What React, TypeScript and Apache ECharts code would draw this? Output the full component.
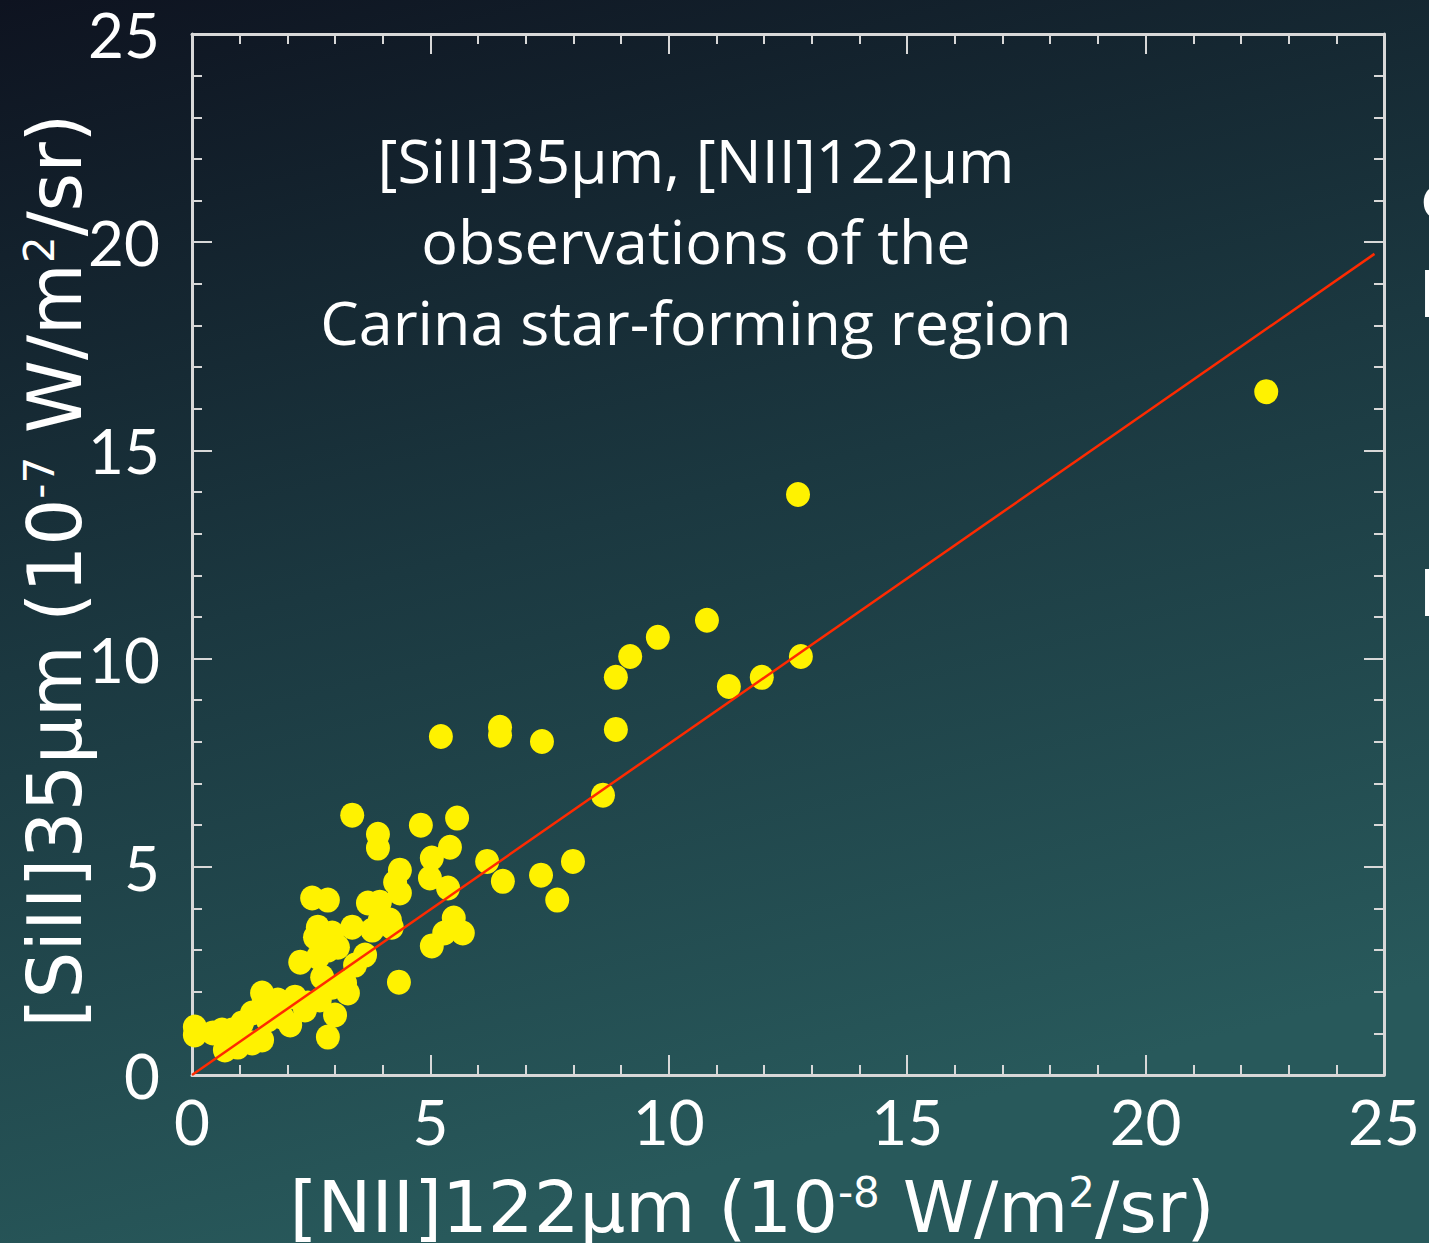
import React, { useEffect, useRef } from "react";
import * as echarts from "echarts";

const niiValues = [
  22.53, 12.71, 10.8, 9.77, 9.19, 12.77, 8.89, 11.95, 11.26, 8.89, 6.46, 6.46, 5.22, 7.34, 8.62,
  3.36, 4.8, 5.56, 3.9, 3.9, 6.19, 7.99, 5.03, 5.41, 4.36, 7.32, 4.99, 6.52, 5.37, 7.66, 4.36,
  5.03, 5.49, 5.68, 5.29, 4.34, 2.85, 4.26, 3.69, 3.94, 4.15, 4.19, 3.63, 3.36, 2.52, 2.85, 2.64,
  2.58, 2.94, 3.78, 2.27, 2.64, 2.85, 3.06, 3.21, 3.27, 2.94, 2.73, 1.47, 1.8, 2.16, 2.37, 2.43,
  1.89, 1.59, 1.26, 1.05, 0.84, 0.76, 0.63, 0.44, 0.06, 0.06, 1.26, 1.47, 0.96, 0.69, 1.51, 2.06,
  2.68, 3.0, 3.42, 3.94,
];
const siiiValues = [
  16.41, 13.94, 10.92, 10.51, 10.05, 10.05, 9.55, 9.55, 9.33, 8.3, 8.35, 8.16, 8.13, 8.01, 6.72,
  6.24, 6.0, 6.17, 5.78, 5.45, 5.13, 5.13, 5.21, 5.47, 4.92, 4.8, 4.73, 4.65, 4.49, 4.2, 4.37,
  3.1, 3.77, 3.41, 3.41, 2.23, 0.91, 4.63, 4.13, 4.15, 3.72, 3.55, 2.88, 3.55, 4.25, 4.2, 3.55,
  3.31, 3.41, 3.48, 2.71, 2.83, 3.0, 3.07, 2.21, 1.97, 2.11, 2.35, 1.97, 1.8, 1.87, 1.56, 1.73,
  1.39, 1.32, 1.49, 1.25, 1.08, 0.84, 1.08, 1.01, 1.15, 0.96, 0.77, 0.84, 0.67, 0.6, 1.8, 1.2,
  1.8, 1.44, 2.64, 3.72,
];
const fitX = [0, 24.8];
const fitY = [0, 19.72];
const axisTicks = [0, 5, 10, 15, 20, 25];
const annotationLines = ["[SiII]35μm, [NII]122μm", "observations of the", "Carina star-forming region"];
const xTitle = "[NII]122μm (10{sup|-8} W/m{sup|2}/sr)";
const yTitle = "[SiII]35μm (10{sup|-7} W/m{sup|2}/sr)";

export default function App() {
  const ref = useRef<HTMLDivElement>(null);
  useEffect(() => {
    if (!ref.current) return;
    const chart = echarts.init(ref.current, null, { renderer: "svg" });
    const axisColor = "#d8d8d8";
    const titleFont = "'DejaVu Sans', sans-serif";
    const labelFont = "Lato, sans-serif";
    const noteFont = "'Open Sans', sans-serif";
    const baseAxis = (extra: any) => ({
      type: "value",
      min: axisTicks[0],
      max: axisTicks[axisTicks.length - 1],
      interval: 5,
      splitLine: { show: false },
      axisLine: { show: true, onZero: false, lineStyle: { color: axisColor, width: 3 } },
      axisTick: { show: true, inside: true, length: 20, lineStyle: { color: axisColor, width: 2 } },
      minorTick: { show: true, splitNumber: 5, length: 10, lineStyle: { color: axisColor, width: 2 } },
      ...extra,
    });
    const supRich = {
      sup: { fontSize: 42, verticalAlign: "top", color: "#fff", fontFamily: titleFont, padding: [0, 0, 30, 0] },
    };
    chart.setOption({
      animation: false,
      backgroundColor: new echarts.graphic.LinearGradient(0, 0, 0.3, 1, [
        { offset: 0, color: "#0e1320" },
        { offset: 0.5, color: "#1b3840" },
        { offset: 1, color: "#28595b" },
      ]),
      grid: { left: 192, right: 45, top: 34, bottom: 168, outerBoundsMode: "none", containLabel: false },
      xAxis: [
        baseAxis({
          position: "bottom",
          axisLabel: { color: "#fff", fontSize: 62, fontFamily: labelFont, margin: 15 },
          name: xTitle,
          nameLocation: "middle",
          nameGap: 96,
          nameTextStyle: {
            color: "#fff",
            fontSize: 72,
            fontFamily: titleFont,
            rich: supRich,
            padding: [0, 72, 0, 0],
          },
        }),
        baseAxis({ position: "top", axisLabel: { show: false } }),
      ],
      yAxis: [
        baseAxis({
          position: "left",
          axisLabel: { color: "#fff", fontSize: 62, fontFamily: labelFont, margin: 32 },
          name: yTitle,
          nameLocation: "middle",
          nameGap: 100,
          nameMoveOverlap: false,
          nameRotate: 90,
          nameTextStyle: {
            color: "#fff",
            fontSize: 74,
            fontFamily: titleFont,
            rich: supRich,
            padding: [0, 32, 0, 0],
          },
        }),
        baseAxis({ position: "right", axisLabel: { show: false } }),
      ],
      graphic: [
        ...annotationLines.map((t, i) => ({
          type: "text",
          x: 696,
          y: 159 + i * 81,
          style: {
            text: t,
            fill: "#fff",
            font: `61px ${noteFont}`,
            textAlign: "center",
            textVerticalAlign: "middle",
          },
          z: 10,
        })),
        { type: "text", x: 1421, y: 160, style: { text: "o", fill: "#fff", font: `66px ${labelFont}` } },
        { type: "text", x: 1419, y: 258, style: { text: "I", fill: "#fff", font: `66px ${labelFont}` } },
        { type: "text", x: 1419, y: 557, style: { text: "I", fill: "#fff", font: `66px ${labelFont}` } },
      ],
      series: [
        {
          type: "scatter",
          data: niiValues.map((x, i) => [x, siiiValues[i]]),
          symbol: "circle",
          symbolSize: [24, 25],
          itemStyle: { color: "#fff200", opacity: 1 },
          z: 3,
        },
        {
          type: "line",
          data: fitX.map((x, i) => [x, fitY[i]]),
          symbol: "none",
          lineStyle: { color: "#ff2a00", width: 2.5 },
          z: 4,
        },
      ],
    });
    return () => chart.dispose();
  }, []);
  return (
    <div
      ref={ref}
      style={{ position: "fixed", left: 0, top: 0, width: 1429, height: 1243 }}
    />
  );
}
